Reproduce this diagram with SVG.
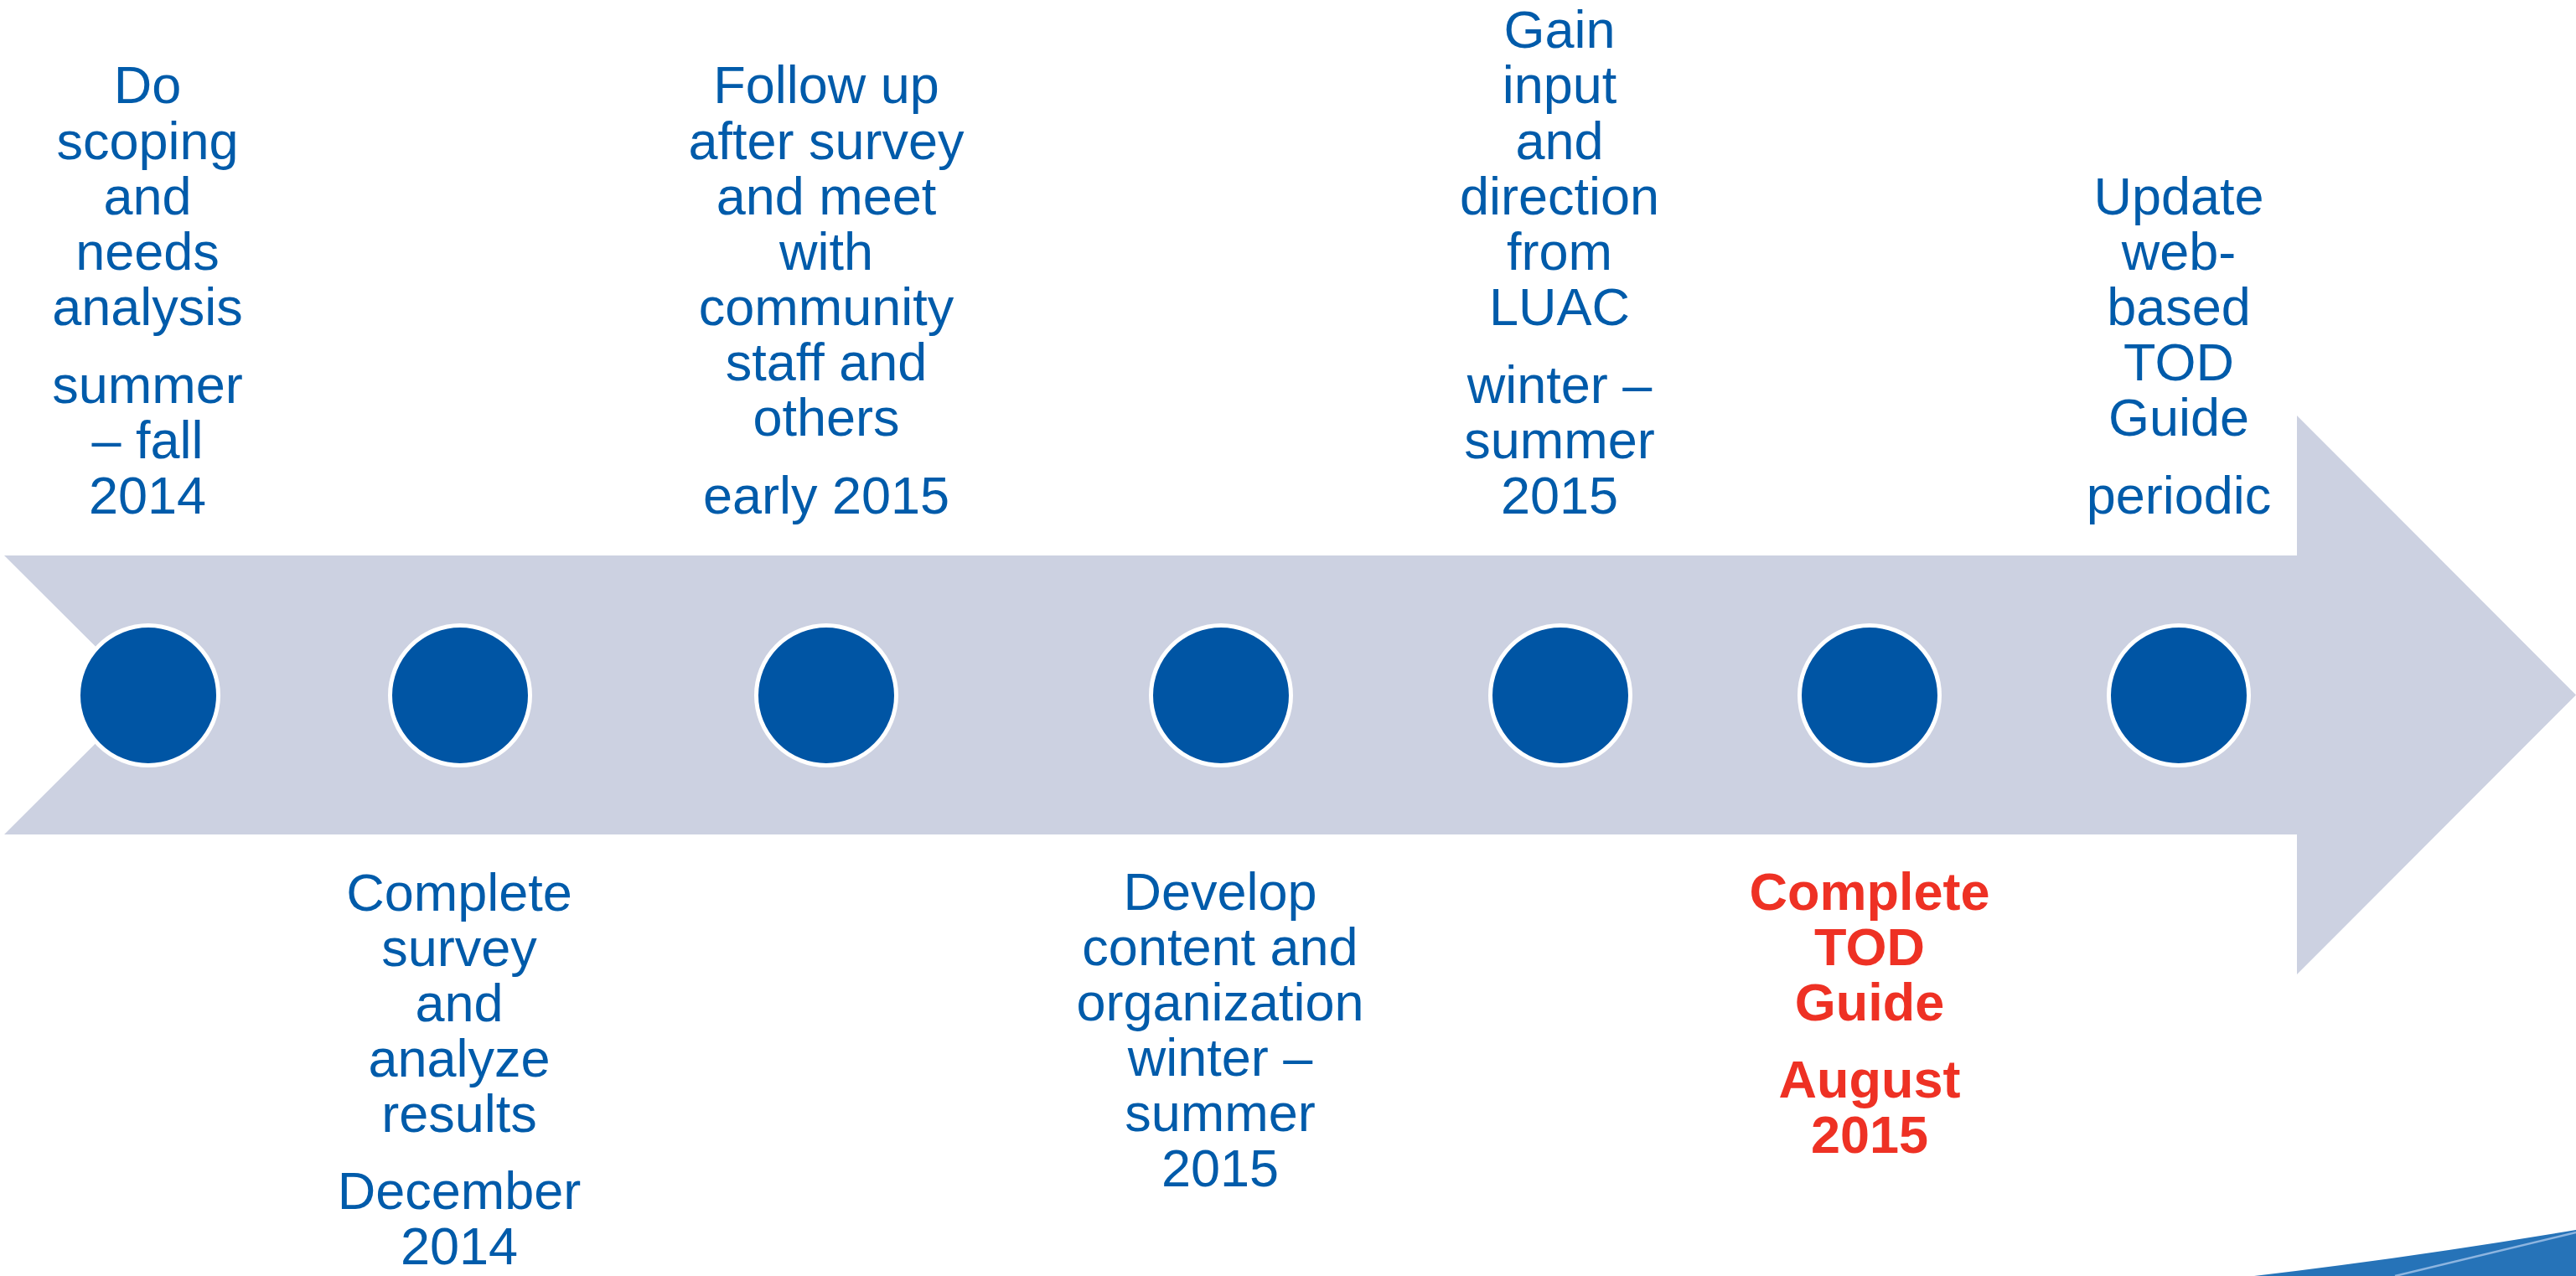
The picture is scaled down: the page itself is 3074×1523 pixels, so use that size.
<svg xmlns="http://www.w3.org/2000/svg" width="3074" height="1523" viewBox="0 0 3074 1523">
<style>
.t{font-family:"Liberation Sans",Arial,sans-serif;font-size:63px;fill:#005BAA;text-anchor:middle}
.r{font-family:"Liberation Sans",Arial,sans-serif;font-size:63px;font-weight:bold;fill:#EE3124;text-anchor:middle}
.dot{fill:#0055A4;stroke:#FFFFFF;stroke-width:5}
</style>
<rect width="3074" height="1523" fill="#FFFFFF"/>
<g id="arrow">
<polygon points="5,663 2741,663 2741,496 3074,829.5 2741,1163 2741,996 5,996 172,829.5" fill="#CCD1E1"/>
</g>
<g id="swoosh">
<path d="M2690,1523 Q2870,1502 3074,1468 L3074,1523 Z" fill="#2673B8"/>
<path d="M2858,1523 L3074,1471" stroke="#8DB5E0" stroke-width="2.5" fill="none"/>
</g>
<g id="connectors"></g>
<g id="node1">
<circle class="dot" cx="177" cy="830" r="83.5"/>
<text class="t"><tspan x="176" y="123">Do</tspan><tspan x="176" y="189.5">scoping</tspan><tspan x="176" y="256">and</tspan><tspan x="176" y="322">needs</tspan><tspan x="176" y="388">analysis</tspan><tspan x="176" y="481">summer</tspan><tspan x="176" y="547">– fall</tspan><tspan x="176" y="613">2014</tspan></text>
</g>
<g id="node2">
<circle class="dot" cx="549" cy="830" r="83.5"/>
<text class="t"><tspan x="548" y="1087">Complete</tspan><tspan x="548" y="1153">survey</tspan><tspan x="548" y="1219">and</tspan><tspan x="548" y="1285">analyze</tspan><tspan x="548" y="1351">results</tspan><tspan x="548" y="1443">December</tspan><tspan x="548" y="1509">2014</tspan></text>
</g>
<g id="node3">
<circle class="dot" cx="986" cy="830" r="83.5"/>
<text class="t"><tspan x="986" y="123">Follow up</tspan><tspan x="986" y="189.5">after survey</tspan><tspan x="986" y="256">and meet</tspan><tspan x="986" y="322">with</tspan><tspan x="986" y="388">community</tspan><tspan x="986" y="454">staff and</tspan><tspan x="986" y="520">others</tspan><tspan x="986" y="613">early 2015</tspan></text>
</g>
<g id="node4">
<circle class="dot" cx="1457" cy="830" r="83.5"/>
<text class="t"><tspan x="1456" y="1086">Develop</tspan><tspan x="1456" y="1152">content and</tspan><tspan x="1456" y="1218">organization</tspan><tspan x="1456" y="1284">winter –</tspan><tspan x="1456" y="1350">summer</tspan><tspan x="1456" y="1416">2015</tspan></text>
</g>
<g id="node5">
<circle class="dot" cx="1862" cy="830" r="83.5"/>
<text class="t"><tspan x="1861" y="57">Gain</tspan><tspan x="1861" y="123">input</tspan><tspan x="1861" y="189.5">and</tspan><tspan x="1861" y="256">direction</tspan><tspan x="1861" y="322">from</tspan><tspan x="1861" y="388">LUAC</tspan><tspan x="1861" y="481">winter –</tspan><tspan x="1861" y="547">summer</tspan><tspan x="1861" y="613">2015</tspan></text>
</g>
<g id="node6">
<circle class="dot" cx="2231" cy="830" r="83.5"/>
<text class="r"><tspan x="2231" y="1086">Complete</tspan><tspan x="2231" y="1152">TOD</tspan><tspan x="2231" y="1218">Guide</tspan><tspan x="2231" y="1310">August</tspan><tspan x="2231" y="1376">2015</tspan></text>
</g>
<g id="node7">
<circle class="dot" cx="2600" cy="830" r="83.5"/>
<text class="t"><tspan x="2600" y="256">Update</tspan><tspan x="2600" y="322">web-</tspan><tspan x="2600" y="388">based</tspan><tspan x="2600" y="454">TOD</tspan><tspan x="2600" y="520">Guide</tspan><tspan x="2600" y="613">periodic</tspan></text>
</g>
</svg>
